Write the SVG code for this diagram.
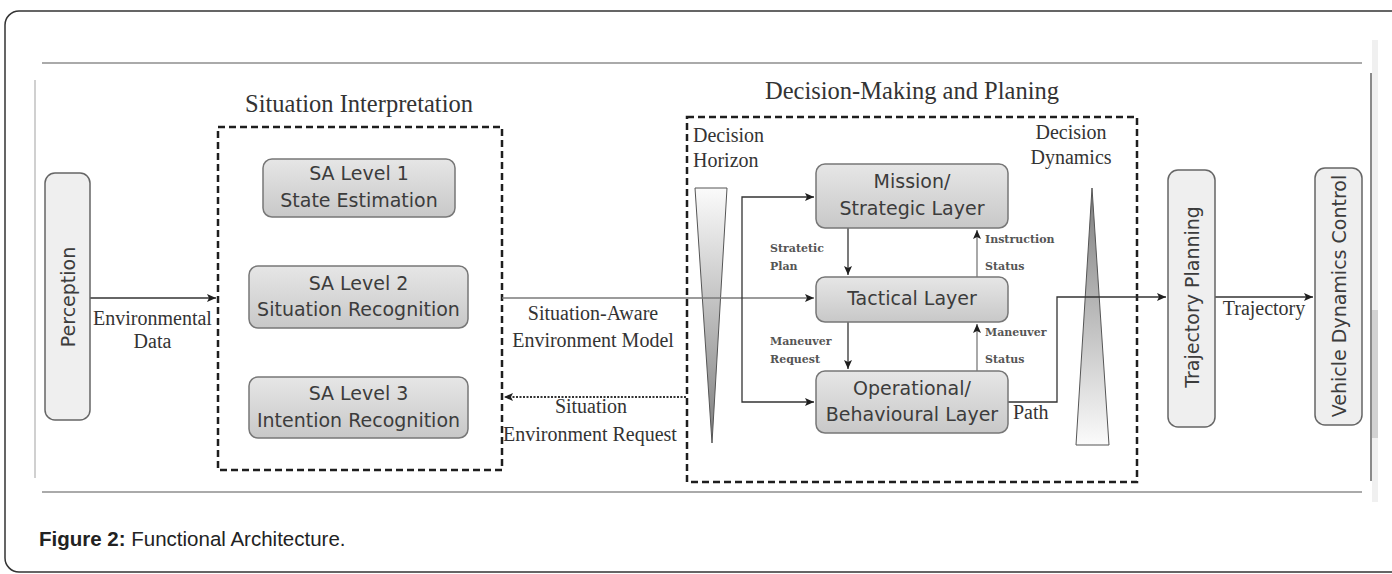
<svg xmlns="http://www.w3.org/2000/svg" width="1392" height="574" viewBox="0 0 1392 574">
  <style>
    .node { fill: url(#boxShade); stroke: #777; stroke-width: 1.5; }
    .pill { fill: #efefef; stroke: #666; stroke-width: 1.5; }
    .ntext { font-family: "DejaVu Sans", "Liberation Sans", sans-serif; font-size: 19px; fill: #3c3c3c; text-anchor: middle; }
    .vtext { font-family: "DejaVu Sans", "Liberation Sans", sans-serif; font-size: 19px; fill: #3c3c3c; text-anchor: middle; dominant-baseline: central; }
    .lbl { font-family: "Liberation Serif", "DejaVu Serif", serif; font-size: 20px; fill: #333; }
    .title { font-family: "Liberation Serif", "DejaVu Serif", serif; font-size: 24.5px; fill: #333; text-anchor: middle; }
    .small { font-family: "DejaVu Serif", "Liberation Serif", serif; font-size: 11px; font-weight: bold; fill: #555; }
    .group { fill: none; stroke: #1e1e1e; stroke-width: 2.5; stroke-dasharray: 7 4; }
    .wire { fill: none; stroke: #333; stroke-width: 1.3; marker-end: url(#head); }
    .wire-light { fill: none; stroke: #7a7a7a; stroke-width: 1.3; marker-end: url(#head); }
    .frame { stroke-width: 2; fill: none; }
  </style>
  <defs>
    <linearGradient id="boxShade" x1="0" y1="0" x2="0" y2="1">
      <stop offset="0" stop-color="#e6e6e6"/>
      <stop offset="1" stop-color="#c8c8c8"/>
    </linearGradient>
    <linearGradient id="fadeDown" x1="0" y1="0" x2="0" y2="1">
      <stop offset="0" stop-color="#fbfbfb"/>
      <stop offset="1" stop-color="#7d7d7d"/>
    </linearGradient>
    <linearGradient id="fadeUp" x1="0" y1="0" x2="0" y2="1">
      <stop offset="0" stop-color="#7d7d7d"/>
      <stop offset="1" stop-color="#fbfbfb"/>
    </linearGradient>
    <marker id="head" markerUnits="userSpaceOnUse" markerWidth="10" markerHeight="8" refX="9" refY="4" orient="auto">
      <path d="M0,0 L9,4 L0,8 L2,4 z" fill="#1e1e1e"/>
    </marker>
  </defs>

  <!-- page card and figure frame -->
  <rect x="5" y="11" width="1400" height="561" rx="14" fill="#fff" stroke="#333" stroke-width="1.5"/>
  <rect x="1372" y="40" width="6" height="462" fill="#f0f0f0"/>
  <rect x="1372" y="310" width="6" height="128" fill="#d2d2d2"/>
  <line class="frame" x1="42" y1="63" x2="1362" y2="63" stroke="#aaa"/>
  <line class="frame" x1="35" y1="80" x2="35" y2="478" stroke="#d0d0d0"/>
  <line class="frame" x1="42" y1="492" x2="1362" y2="492" stroke="#aaa"/>
  <line class="frame" x1="1371" y1="73" x2="1371" y2="481" stroke="#8a8a8a"/>

  <!-- group outlines -->
  <g id="situation-interpretation">
    <rect class="group" x="218" y="127" width="284" height="343"/>
    <text class="title" x="359" y="112">Situation Interpretation</text>
  </g>
  <g id="decision-making">
    <rect class="group" x="687" y="117" width="450" height="365"/>
    <text class="title" x="912" y="99">Decision-Making and Planing</text>
  </g>

  <!-- horizon and dynamics wedges -->
  <g id="decision-horizon">
    <text class="lbl" x="693" y="142">Decision</text>
    <text class="lbl" x="693" y="167">Horizon</text>
    <polygon points="695,188 727,188 712,443" fill="url(#fadeDown)" stroke="#555" stroke-width="1"/>
  </g>
  <g id="decision-dynamics">
    <text class="lbl" x="1071" y="139" text-anchor="middle">Decision</text>
    <text class="lbl" x="1071" y="164" text-anchor="middle">Dynamics</text>
    <polygon points="1092,188 1109,445 1076,445" fill="url(#fadeUp)" stroke="#555" stroke-width="1"/>
  </g>

  <!-- connectors -->
  <g id="connectors">
    <path class="wire" d="M90 298 H216"/>
    <path class="wire-light" d="M502 298 H814"/>
    <path d="M686 397 H504" fill="none" stroke="#333" stroke-width="2" stroke-dasharray="2 1.5" marker-end="url(#head)"/>
    <path class="wire" d="M742 300 V197 H814"/>
    <path class="wire" d="M742 300 V402 H814"/>
    <path class="wire" d="M848 228 V275"/>
    <path class="wire" d="M848 322 V369"/>
    <path class="wire-light" d="M977 277 V230"/>
    <path class="wire-light" d="M977 371 V324"/>
    <path class="wire" d="M1008 402 H1057 V297 H1166"/>
    <path class="wire" d="M1215 297 H1313"/>

    <text class="lbl" x="152.5" y="325" text-anchor="middle">Environmental</text>
    <text class="lbl" x="152.5" y="348" text-anchor="middle">Data</text>
    <text class="lbl" x="593" y="320" text-anchor="middle">Situation-Aware</text>
    <text class="lbl" x="593" y="347" text-anchor="middle">Environment Model</text>
    <text class="lbl" x="591" y="413" text-anchor="middle">Situation</text>
    <text class="lbl" x="590" y="441" text-anchor="middle">Environment Request</text>
    <text class="small" x="770" y="252">Stratetic</text>
    <text class="small" x="770" y="270">Plan</text>
    <text class="small" x="770" y="345">Maneuver</text>
    <text class="small" x="770" y="363">Request</text>
    <text class="small" x="985" y="243">Instruction</text>
    <text class="small" x="985" y="270">Status</text>
    <text class="small" x="985" y="336">Maneuver</text>
    <text class="small" x="985" y="363">Status</text>
    <text class="lbl" x="1013" y="419">Path</text>
    <text class="lbl" x="1264" y="315" text-anchor="middle">Trajectory</text>
  </g>

  <!-- nodes -->
  <g id="perception">
    <rect class="pill" x="45" y="173" width="45" height="247" rx="10"/>
    <text class="vtext" transform="translate(67.5 297) rotate(-90)">Perception</text>
  </g>
  <g id="sa-level-1">
    <rect class="node" x="263" y="159" width="192" height="58" rx="9"/>
    <text class="ntext" x="359" y="180">SA Level 1</text>
    <text class="ntext" x="359" y="207">State Estimation</text>
  </g>
  <g id="sa-level-2">
    <rect class="node" x="249" y="266" width="219" height="62" rx="9"/>
    <text class="ntext" x="358.5" y="290">SA Level 2</text>
    <text class="ntext" x="358.5" y="316">Situation Recognition</text>
  </g>
  <g id="sa-level-3">
    <rect class="node" x="249" y="377" width="219" height="61" rx="9"/>
    <text class="ntext" x="358.5" y="400">SA Level 3</text>
    <text class="ntext" x="358.5" y="427">Intention Recognition</text>
  </g>
  <g id="mission-layer">
    <rect class="node" x="816" y="164" width="192" height="64" rx="9"/>
    <text class="ntext" x="912" y="188">Mission/</text>
    <text class="ntext" x="912" y="215">Strategic Layer</text>
  </g>
  <g id="tactical-layer">
    <rect class="node" x="816" y="277" width="192" height="45" rx="9"/>
    <text class="ntext" x="912" y="305">Tactical Layer</text>
  </g>
  <g id="operational-layer">
    <rect class="node" x="816" y="371" width="192" height="62" rx="9"/>
    <text class="ntext" x="912" y="395">Operational/</text>
    <text class="ntext" x="912" y="421">Behavioural Layer</text>
  </g>
  <g id="trajectory-planning">
    <rect class="pill" x="1168" y="170" width="47" height="257" rx="10"/>
    <text class="vtext" transform="translate(1191.5 297) rotate(-90)">Trajectory Planning</text>
  </g>
  <g id="vehicle-dynamics-control">
    <rect class="pill" x="1315" y="168" width="47" height="257" rx="10"/>
    <text class="vtext" transform="translate(1338.5 296) rotate(-90)">Vehicle Dynamics Control</text>
  </g>

  <!-- caption -->
  <text x="39" y="546" font-family="Liberation Sans, Arial, sans-serif" font-size="20.5" fill="#222"><tspan font-weight="bold">Figure 2:</tspan> Functional Architecture.</text>
</svg>
